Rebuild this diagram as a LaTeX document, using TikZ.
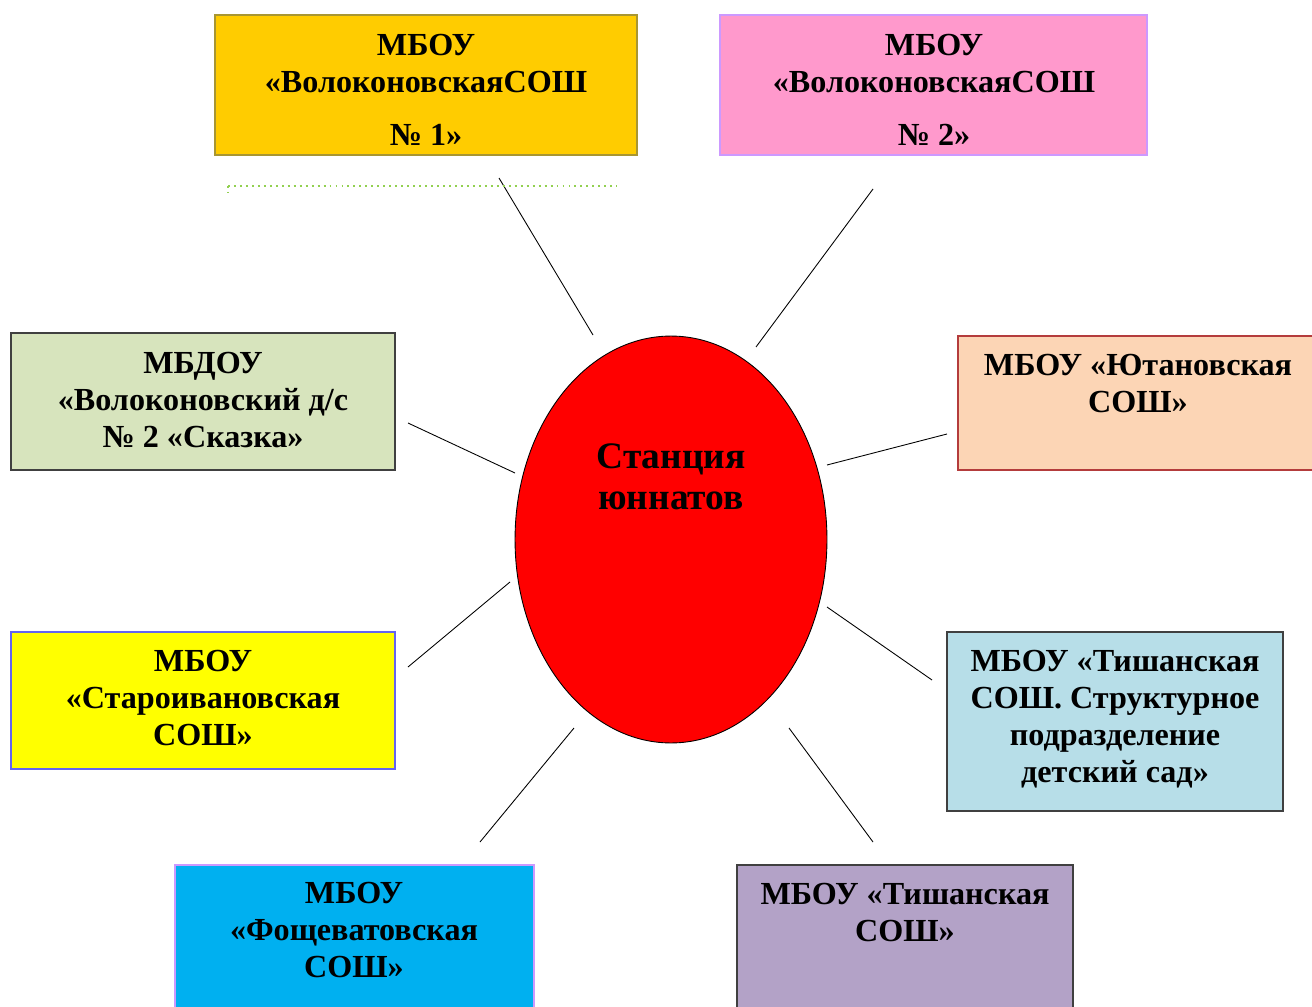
\documentclass[tikz,border=0pt]{standalone}
\usepackage{fontspec}
\setmainfont{Liberation Serif}
\usepackage{xcolor}
\usetikzlibrary{shapes.geometric}

\definecolor{zolot}{HTML}{FFCC00}
\definecolor{rozov}{HTML}{FF99CC}
\definecolor{olivk}{HTML}{D7E4BD}
\definecolor{persik}{HTML}{FCD5B5}
\definecolor{zhelt}{HTML}{FFFF00}
\definecolor{goluboy}{HTML}{B7DEE8}
\definecolor{siniy}{HTML}{00B0F0}
\definecolor{sirень}{HTML}{B3A2C7}
\definecolor{lavand}{HTML}{CC99FF}
\definecolor{travа}{HTML}{92D050}

\begin{document}
\begin{tikzpicture}
            [x=0.02cm, y=-0.02cm,
            box/.style = {rectangle, draw, line width=0.9pt, inner sep=0pt},
            txt/.style = {anchor=north, align=center, inner sep=0pt,
                        font=\bfseries\fontsize{18.3pt}{21pt}\selectfont},
            link/.style = {black, line width=0.5pt}]
            \useasboundingbox (0,0) rectangle (1312,1007);

            % Dibujo de las cajas
            \node[box, fill=zolot, draw={rgb,255:red,168;green,150;blue,50},
                minimum width=8.44cm, minimum height=2.8cm] (b1) at (426,85) {};
            \node[box, fill=rozov, draw=lavand,
                minimum width=8.54cm, minimum height=2.8cm] (b2) at (933.5,85) {};
            \node[box, fill=olivk, draw={rgb,255:red,64;green,64;blue,64},
                minimum width=7.68cm, minimum height=2.74cm] (b3) at (203,401.5) {};
            \node[box, fill=persik, draw={rgb,255:red,180;green,60;blue,60},
                minimum width=7.48cm, minimum height=2.68cm] (b4) at (1145,403) {};
            \node[box, fill=zhelt, draw={rgb,255:red,100;green,100;blue,240},
                minimum width=7.68cm, minimum height=2.74cm] (b5) at (203,700.5) {};
            \node[box, fill=goluboy, draw={rgb,255:red,64;green,64;blue,64},
                minimum width=6.72cm, minimum height=3.58cm] (b6) at (1115,721.5) {};
            \node[box, fill=siniy, draw=lavand,
                minimum width=7.18cm, minimum height=3.04cm] (b7) at (354.5,941) {};
            \node[box, fill=sirень, draw={rgb,255:red,64;green,64;blue,64},
                minimum width=6.72cm, minimum height=3.04cm] (b8) at (905,941) {};

            \node[txt] (t1) at (426,34) {МБОУ\\«ВолоконовскаяСОШ\\[0.32cm]№ 1»};
            \node[txt] (t2) at (934,34) {МБОУ\\«ВолоконовскаяСОШ\\[0.32cm]№ 2»};
            \node[txt] (t3) at (203,352) {МБДОУ\\«Волоконовский д/с\\№ 2 «Сказка»};
            \node[txt] (t4) at (1138,354) {МБОУ «Ютановская\\СОШ»};
            \node[txt] (t5) at (203,650) {МБОУ\\«Староивановская\\СОШ»};
            \node[txt] (t6) at (1115,650) {МБОУ «Тишанская\\СОШ. Структурное\\подразделение\\детский сад»};
            \node[txt] (t7) at (354,882) {МБОУ\\«Фощеватовская\\СОШ»};
            \node[txt] (t8) at (905,883) {МБОУ «Тишанская\\СОШ»};

            % Centro
            \node[ellipse, draw, fill=red, line width=0.5pt,
                minimum width=6.24cm, minimum height=8.14cm] (st) at (671,539.5) {};
            \node[txt, font=\bfseries\fontsize{21.3pt}{23.3pt}\selectfont] (tst) at (671,443)
                {Станция\\юннатов};

            % Lineas
            \foreach \sx/\sy/\ex/\ey [count=\i] in
                {593/335/499/178, 756/347/873/189, 515/473/408/423, 827/465/947/434,
                 510/582/408/667, 827/607/932/680, 574/728/480/842, 789/728/873/842}
            {
                \coordinate (s\i) at (\sx,\sy);
                \coordinate (e\i) at (\ex,\ey);
                \draw[link] (s\i) -- (e\i);
            }

            \coordinate (g1) at (228,186);
            \coordinate (g2) at (617,186);
            \draw[travа, line width=1.1pt, dash pattern=on 1.1pt off 2.3pt] (g1) -- (g2);
            \draw[travа, line width=1.1pt, dash pattern=on 1.1pt off 2.3pt] (g1) -- ++(0,6);
        \end{tikzpicture}
\end{document}
